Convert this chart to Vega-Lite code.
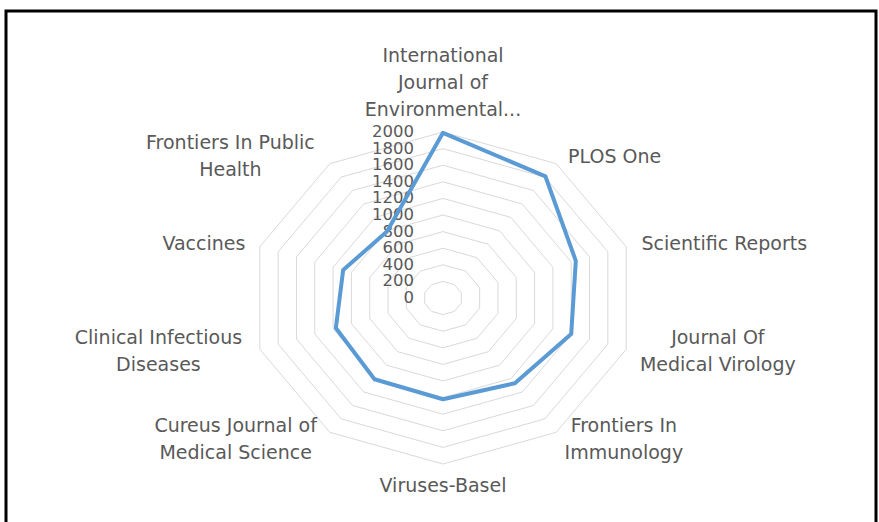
{
  "$schema": "https://vega.github.io/schema/vega-lite/v6.json",
  "width": 870,
  "height": 520,
  "autosize": "none",
  "padding": {"left": 6, "top": 11, "right": 3, "bottom": -9},
  "background": "#ffffff",
  "config": {
    "view": {"stroke": "#000000", "strokeWidth": 3},
    "text": {"font": "DejaVu Sans", "fontSize": 19, "color": "#595959"}
  },
  "datasets": {
    "journals": [
      {"journal": "International\nJournal of\nEnvironmental...", "articles": 1990},
      {"journal": "PLOS One", "articles": 1810},
      {"journal": "Scientific Reports", "articles": 1450},
      {"journal": "Journal Of\nMedical Virology", "articles": 1400},
      {"journal": "Frontiers In\nImmunology", "articles": 1270},
      {"journal": "Viruses-Basel", "articles": 1220},
      {"journal": "Cureus Journal of\nMedical Science", "articles": 1210},
      {"journal": "Clinical Infectious\nDiseases", "articles": 1170},
      {"journal": "Vaccines", "articles": 1090},
      {"journal": "Frontiers In Public\nHealth", "articles": 990}
    ],
    "rings": [
      {"ring": [0, 200, 400, 600, 800, 1000, 1200, 1400, 1600, 1800, 2000], "k": [0, 1, 2, 3, 4, 5, 6, 7, 8, 9]}
    ]
  },
  "layer": [
    {
      "data": {"name": "rings"},
      "transform": [
        {"flatten": ["ring"]},
        {"filter": "datum.ring > 0"},
        {"flatten": ["k"]},
        {"calculate": "datum.k * PI / 5", "as": "a"},
        {"calculate": "datum.ring * sin(datum.a)", "as": "gx"},
        {"calculate": "datum.ring * cos(datum.a)", "as": "gy"}
      ],
      "mark": {"type": "line", "interpolate": "linear-closed", "color": "#D9D9D9", "strokeWidth": 1},
      "encoding": {
        "x": {"field": "gx", "type": "quantitative", "scale": {"domain": [-4538, 4496.4], "nice": false, "zero": false}, "axis": null},
        "y": {"field": "gy", "type": "quantitative", "scale": {"domain": [-2807.2, 3457.8], "nice": false, "zero": false}, "axis": null},
        "detail": {"field": "ring", "type": "nominal"},
        "order": {"field": "k", "type": "quantitative"}
      }
    },
    {
      "data": {"name": "rings"},
      "transform": [{"flatten": ["ring"]}],
      "mark": {"type": "text", "align": "right", "baseline": "middle", "dx": -29, "fontSize": 16.5},
      "encoding": {
        "x": {"datum": 0, "type": "quantitative", "scale": {"domain": [-4538, 4496.4], "nice": false, "zero": false}, "axis": null},
        "y": {"field": "ring", "type": "quantitative", "scale": {"domain": [-2807.2, 3457.8], "nice": false, "zero": false}, "axis": null},
        "text": {"field": "ring", "type": "quantitative", "format": "d"}
      }
    },
    {
      "data": {"name": "journals"},
      "transform": [
        {"window": [{"op": "row_number", "as": "rn"}]},
        {"calculate": "(datum.rn - 1) * PI / 5", "as": "a"},
        {"calculate": "datum.articles * sin(datum.a)", "as": "px"},
        {"calculate": "datum.articles * cos(datum.a)", "as": "py"}
      ],
      "mark": {"type": "line", "interpolate": "linear-closed", "color": "#5B9BD5", "strokeWidth": 4, "strokeJoin": "round"},
      "encoding": {
        "x": {"field": "px", "type": "quantitative", "scale": {"domain": [-4538, 4496.4], "nice": false, "zero": false}, "axis": null},
        "y": {"field": "py", "type": "quantitative", "scale": {"domain": [-2807.2, 3457.8], "nice": false, "zero": false}, "axis": null},
        "order": {"field": "rn", "type": "quantitative"}
      }
    },
    {
      "data": {"name": "journals"},
      "transform": [
        {"window": [{"op": "row_number", "as": "rn"}]},
        {"calculate": "datum.rn - 1", "as": "idx"},
        {"calculate": "split(datum.journal, '\\n')", "as": "lines"},
        {"flatten": ["lines"]},
        {"window": [{"op": "row_number", "as": "ln"}], "groupby": ["idx"]},
        {"calculate": "12*length(datum.lines) - 5.5*(length(datum.lines) - length(replace(datum.lines, regexp('[iltfjrI .]', 'g'), ''))) + 3*(length(datum.lines) - length(replace(datum.lines, regexp('[A-Z]', 'g'), ''))) + 6*(length(datum.lines) - length(replace(datum.lines, regexp('m', 'g'), '')))", "as": "w"},
        {"joinaggregate": [{"op": "max", "field": "w", "as": "mw"}, {"op": "count", "as": "nl"}], "groupby": ["idx"]},
        {"calculate": "datum.idx * PI / 5", "as": "a"},
        {"calculate": "sin(datum.a)", "as": "s"},
        {"calculate": "cos(datum.a)", "as": "c"},
        {"calculate": "datum.s * 2100 + (abs(datum.s) > 0.1 ? (datum.s > 0 ? 1 : -1) * datum.mw / 2 / 0.0963 : 0)", "as": "lx"},
        {"calculate": "datum.c * 2100 + (abs(datum.s) < 0.1 ? (datum.c > 0 ? 1 : -1) * datum.nl * 13.5 / 0.083 : 0) - (datum.ln - (datum.nl + 1) / 2) * 27 / 0.083", "as": "ly"}
      ],
      "mark": {"type": "text", "align": "center", "baseline": "middle"},
      "encoding": {
        "x": {"field": "lx", "type": "quantitative", "scale": {"domain": [-4538, 4496.4], "nice": false, "zero": false}, "axis": null},
        "y": {"field": "ly", "type": "quantitative", "scale": {"domain": [-2807.2, 3457.8], "nice": false, "zero": false}, "axis": null},
        "text": {"field": "lines", "type": "nominal"}
      }
    }
  ]
}
